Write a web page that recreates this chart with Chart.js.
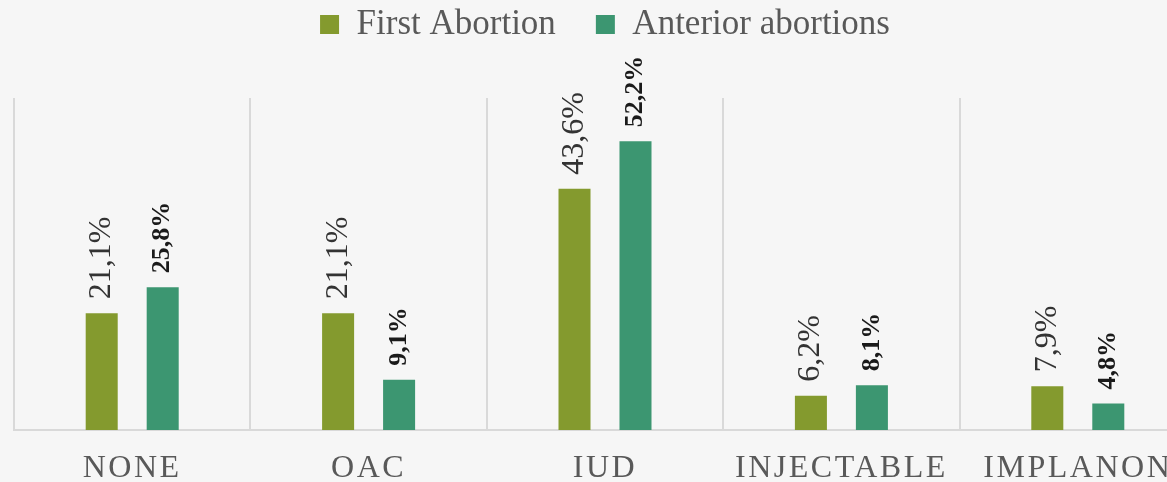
<!DOCTYPE html>
<html>
<head>
<meta charset="utf-8">
<script src="https://cdn.jsdelivr.net/npm/chart.js@4/dist/chart.umd.min.js"></script>
<style>
    html, body { margin: 0; padding: 0; overflow: hidden; background: #f6f6f6; }
    canvas { display: block; }
</style>
</head>
<body>
<canvas id="AbortionChart" width="1200" height="482"></canvas>
<script>
// Chart data
const categories = ['NONE', 'OAC', 'IUD', 'INJECTABLE', 'IMPLANON'];
const firstAbortion = [21.1, 21.1, 43.6, 6.2, 7.9];
const anteriorAbortions = [25.8, 9.1, 52.2, 8.1, 4.8];

// Define colors
const oliveColor = '#849a2e';
const greenColor = '#3c9671';
const gridColor = '#d9d9d9';
const textColor = '#595959';
const serif = '"Liberation Serif", "Times New Roman", serif';

const fmt = v => v.toFixed(1).replace('.', ',') + '%';

// leave room between legend and plot, keep legend row near the top
const legendGap = {
    id: 'legendGap',
    beforeInit(chart) {
        const legend = chart.legend;
        const fit = legend.fit;
        const draw = legend.draw;
        legend.fit = function () {
            fit.call(this);
            this.height = 98;
        };
        legend.draw = function () {
            this.ctx.save();
            this.ctx.translate(0, -33);
            draw.call(this);
            this.ctx.restore();
        };
    }
};

// spaced capitals on the category axis
const tickSpacing = {
    id: 'tickSpacing',
    beforeDraw(chart) {
        const scale = chart.scales.x;
        if (scale._spaced) return;
        const drawLabels = scale.drawLabels;
        scale.drawLabels = function (area) {
            this.ctx.save();
            this.ctx.letterSpacing = '2.5px';
            drawLabels.call(this, area);
            this.ctx.restore();
        };
        scale._spaced = true;
    }
};

// rotated value labels above bars
const barLabels = {
    id: 'barLabels',
    afterDatasetsDraw(chart) {
        const ctx = chart.ctx;
        chart.data.datasets.forEach((ds, i) => {
            chart.getDatasetMeta(i).data.forEach((bar, j) => {
                ctx.save();
                ctx.translate(bar.x, bar.y - 14);
                ctx.rotate(-Math.PI / 2);
                ctx.font = i === 0 ? '32px ' + serif : 'bold 26px ' + serif;
                ctx.fillStyle = i === 0 ? '#333333' : '#1a1a1a';
                ctx.textAlign = 'left';
                ctx.textBaseline = 'middle';
                ctx.fillText(fmt(ds.data[j]), 0, 0);
                ctx.restore();
            });
        });
    }
};

const data = {
    labels: categories,
    datasets: [{
        label: 'First Abortion',
        data: firstAbortion,
        backgroundColor: oliveColor,
        categoryPercentage: 0.516,
        barPercentage: 0.525
    }, {
        label: 'Anterior abortions',
        data: anteriorAbortions,
        backgroundColor: greenColor,
        categoryPercentage: 0.516,
        barPercentage: 0.525
    }]
};

const config = {
    type: 'bar',
    data: data,
    options: {
        responsive: false,
        animation: false,
        layout: { padding: { left: 14, right: 4, top: 0, bottom: 0 } },
        plugins: {
            legend: {
                position: 'top',
                labels: {
                    boxWidth: 19,
                    boxHeight: 19,
                    padding: 40,
                    color: textColor,
                    font: { family: serif, size: 35 }
                }
            },
            tooltip: { enabled: false }
        },
        scales: {
            x: {
                afterFit: scale => { scale.height = 52; },
                grid: {
                    display: true,
                    offset: true,
                    color: gridColor,
                    lineWidth: 2,
                    drawTicks: false
                },
                border: { display: true, color: gridColor, width: 2 },
                ticks: {
                    color: textColor,
                    padding: 23,
                    maxRotation: 0,
                    autoSkip: false,
                    font: { family: serif, size: 32, lineHeight: 1 }
                }
            },
            y: {
                display: false,
                min: 0,
                max: 60
            }
        }
    },
    plugins: [legendGap, tickSpacing, barLabels]
};

new Chart(document.getElementById('AbortionChart'), config);
</script>
</body>
</html>
